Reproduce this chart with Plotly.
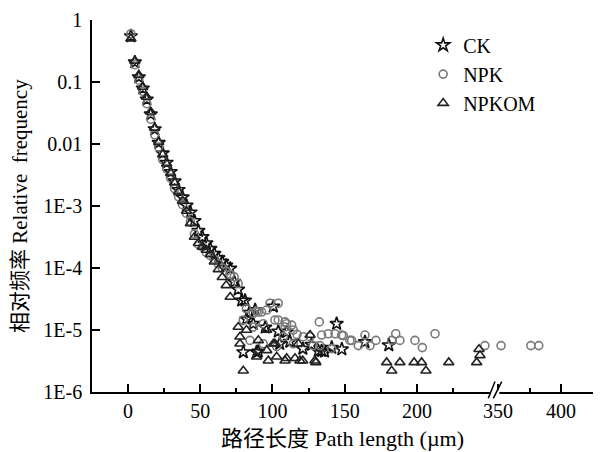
import plotly.graph_objects as go

# ---------------- data ----------------
grid_x = [2.0, 4.75, 7.5, 10.25, 13.0, 15.75, 18.5, 21.25, 24.0, 26.75, 29.5, 32.25, 35.0, 37.75,
          40.5, 43.25, 46.0, 48.75, 51.5, 54.25, 57.0, 59.75, 62.5, 65.25, 68.0, 70.75, 73.5, 76.25]

ck_x = grid_x + [78.7, 81, 82, 79.8, 84, 86.7, 88, 89, 90.2, 95, 100.6, 104, 105, 109.8, 112, 121,
                 127, 131.7, 134, 136, 141, 144.4, 148, 164, 180.5]
ck_y = [0.55, 0.209, 0.12, 0.079, 0.0525, 0.0302, 0.0174, 0.0105, 0.00708, 0.00501, 0.00355, 0.00251,
        0.00182, 0.00138, 0.00102, 7.9e-4, 5.75e-4, 3.98e-4, 3.16e-4, 2.51e-4, 2.04e-4, 1.7e-4,
        1.45e-4, 1.26e-4, 1.1e-4, 9.8e-5, 6.0e-5, 4.5e-5,
        3.0e-5, 3.0e-5, 1.5e-5, 4.4e-6, 1.9e-5, 1.26e-5, 2.1e-5, 4.4e-6, 4.5e-6, 1.1e-5, 2.4e-5,
        9.5e-6, 6.0e-6, 9.3e-6, 6.5e-6, 5.0e-6, 5.8e-6, 4.6e-6, 4.6e-6, 4.5e-6, 5.2e-6, 1.26e-5,
        4.9e-6, 6.4e-6, 5.7e-6]

npk_x = grid_x + [79.8, 82, 84.4, 86.7, 86.7, 89, 90.2, 92.5, 93.6, 93.6, 96, 98.3, 101.7, 102.9,
                  104, 104, 107.5, 108.7, 108.7, 109.8, 113.3, 114.4, 114.4, 117, 121.3, 126, 128.2,
                  132.4, 132.9, 134, 138.6, 141, 143.3, 147.9, 149, 153.6, 154.8, 159.4, 164, 167.5,
                  171.6, 182.5, 185.3, 188.2, 198.6, 203.7, 212.5, 247]
npk_y = [0.60, 0.19, 0.107, 0.0708, 0.0447, 0.0251, 0.0141, 0.0089, 0.00562, 0.00398, 0.00282,
         0.00191, 0.00141, 0.00105, 7.6e-4, 5.6e-4, 3.55e-4, 2.4e-4, 2.2e-4, 1.78e-4, 1.58e-4,
         1.38e-4, 1.17e-4, 1.0e-4, 8.9e-5, 7.9e-5, 7.2e-5, 5.6e-5,
         1.45e-5, 2.2e-5, 6.8e-6, 1.12e-5, 1.86e-5, 2.0e-5, 1.95e-5, 1.95e-5, 1.26e-5, 6.0e-6,
         2.1e-5, 2.7e-5, 1.45e-5, 5.4e-6, 2.7e-5, 1.45e-5, 7.8e-6, 1.35e-5, 1.12e-5, 1.26e-5,
         1.2e-5, 1.0e-5, 6.0e-6, 8.5e-6, 7.8e-6, 7.8e-6, 5.6e-6, 1.35e-5, 5.6e-6, 8.3e-6, 8.7e-6,
         5.0e-6, 8.7e-6, 8.3e-6, 8.1e-6, 6.8e-6, 6.8e-6, 5.6e-6, 8.3e-6, 5.6e-6, 6.8e-6, 6.8e-6,
         8.7e-6, 6.8e-6, 6.8e-6, 5.2e-6, 8.7e-6, 5.6e-6]
npk_far_x = [352.4, 376, 382.3]
npk_far_y = [5.6e-6, 5.6e-6, 5.6e-6]

npkom_x = grid_x[:26] + [76.3, 77.5, 77.5, 79.8, 82, 89, 90.2, 96, 96, 97.1, 100.6, 101.7, 102.9,
                         108.7, 109.8, 115.6, 117.9, 119, 120.9, 126, 129.4, 130, 179, 182.5,
                         188.2, 198, 203.2, 206.2, 222, 241.3, 242.9, 243.6]
npkom_y = [0.50, 0.219, 0.129, 0.0832, 0.0575, 0.0331, 0.0182, 0.0107, 0.00676, 0.00479, 0.00339,
           0.0024, 0.0017, 0.0012, 8.3e-4, 5.25e-4, 3.16e-4, 2.51e-4, 2.19e-4, 1.95e-4, 1.66e-4,
           1.26e-4, 9.5e-5, 7.1e-5, 5.25e-5, 3.4e-5,
           1.12e-5, 7.8e-6, 6.0e-6, 2.2e-6, 1.0e-5, 3.7e-6, 6.8e-6, 1.0e-5, 4.7e-6, 3.2e-6, 6.0e-6,
           6.0e-6, 3.7e-6, 3.2e-6, 3.5e-6, 3.5e-6, 6.0e-6, 3.2e-6, 3.2e-6, 8.3e-6, 3.2e-6, 3.0e-6,
           3.0e-6, 2.2e-6, 3.0e-6, 3.0e-6, 3.0e-6, 2.2e-6, 3.0e-6, 3.0e-6, 4.9e-6, 3.9e-6]

y_tickvals = [1e-6, 1e-5, 1e-4, 1e-3, 0.01, 0.1, 1]
y_ticktext = ["1E-6", "1E-5", "1E-4", "1E-3", "0.01", "0.1", "1"]
x_left_ticks = [0, 50, 100, 150, 200]
x_right_ticks = [350, 400]

# ---------------- figure ----------------
FONT = "Liberation Serif, 'Times New Roman', 'Noto Sans CJK SC', serif"
SPLIT = 0.8044

fig = go.Figure()
fig.add_trace(go.Scatter(x=ck_x, y=ck_y, mode="markers", name="CK", legendgroup="ck",
                         marker=dict(symbol="star-open", size=10, color="#111111",
                                     line=dict(width=1.6, color="#111111"))))
fig.add_trace(go.Scatter(x=npk_x, y=npk_y, mode="markers", name="NPK", legendgroup="npk",
                         marker=dict(symbol="circle-open", size=8, color="#7a7a7a",
                                     line=dict(width=1.6, color="#7a7a7a"))))
fig.add_trace(go.Scatter(x=npkom_x, y=npkom_y, mode="markers", name="NPKOM", legendgroup="npkom",
                         marker=dict(symbol="triangle-up-open", size=9, color="#222222",
                                     line=dict(width=1.6, color="#222222"))))
fig.add_trace(go.Scatter(x=npk_far_x, y=npk_far_y, mode="markers", name="NPK", legendgroup="npk",
                         showlegend=False, xaxis="x2",
                         marker=dict(symbol="circle-open", size=8, color="#7a7a7a",
                                     line=dict(width=1.6, color="#7a7a7a"))))

axis_common = dict(showline=True, linecolor="black", linewidth=1.6, showgrid=False,
                   zeroline=False, ticks="inside", ticklen=8, tickwidth=1.5, tickcolor="black",
                   automargin=False,
                   tickfont=dict(family=FONT, size=20, color="black"))

fig.update_layout(
    width=597, height=444,
    margin=dict(l=84, r=12, t=12, b=60),
    paper_bgcolor="white", plot_bgcolor="white",
    font=dict(family=FONT, size=20, color="black"),
    showlegend=True,
    legend=dict(x=0.661, y=0.985, xanchor="left", yanchor="top",
                font=dict(family=FONT, size=20, color="black"),
                bgcolor="rgba(0,0,0,0)", tracegroupgap=0, itemsizing="trace"),
    xaxis=dict(domain=[0, SPLIT], range=[-24.9, 254], tickvals=x_left_ticks,
               minor=dict(tickvals=[25, 75, 125, 175, 225], ticks="inside", ticklen=4,
                          tickwidth=1.5, tickcolor="black"),
               anchor="y", **axis_common),
    xaxis2=dict(domain=[SPLIT, 1], range=[347.6, 425.3], tickvals=x_right_ticks,
                minor=dict(tickvals=[375, 425], ticks="inside", ticklen=4,
                           tickwidth=1.5, tickcolor="black"),
                anchor="y", **axis_common),
    yaxis=dict(type="log", range=[-6, 0], tickvals=y_tickvals, ticktext=y_ticktext,
               ticklabelstandoff=4, **axis_common),
)

# axis titles
fig.add_annotation(text="相对频率 Relative  frequency", xref="paper", yref="paper",
                   x=-0.1437, y=0.50, xanchor="center", yanchor="middle", textangle=-90,
                   showarrow=False, font=dict(family=FONT, size=21, color="black"))
fig.add_annotation(text="路径长度 Path length (µm)", xref="paper", yref="paper",
                   x=0.5, y=-0.124, xanchor="center", yanchor="middle", showarrow=False,
                   font=dict(family=FONT, size=22, color="black"))

# axis-break mark
fig.add_shape(type="line", xref="paper", yref="paper", x0=0.794, x1=0.813, y0=0, y1=0,
              line=dict(color="white", width=4), layer="above")
fig.add_shape(type="line", xref="paper", yref="paper", x0=0.791, x1=0.8044, y0=-0.017, y1=0.028,
              line=dict(color="black", width=1.5), layer="above")
fig.add_shape(type="line", xref="paper", yref="paper", x0=0.801, x1=0.8178, y0=-0.017, y1=0.028,
              line=dict(color="black", width=1.5), layer="above")

fig.write_html("out.html")
